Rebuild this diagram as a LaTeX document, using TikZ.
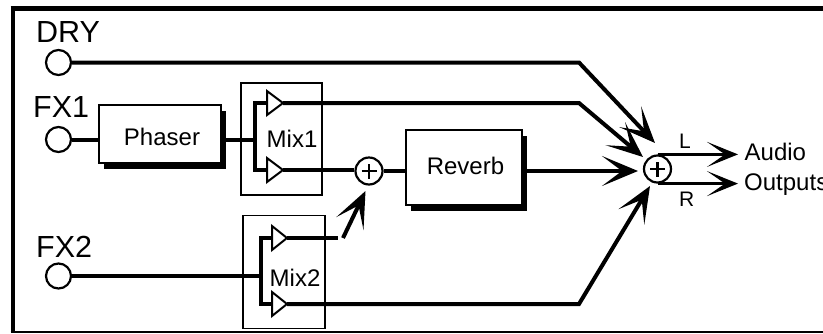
\documentclass[tikz,border=0pt]{standalone}
\usepackage{fontspec}
\setmainfont{Liberation Sans}
\usetikzlibrary{arrows.meta,shadows}
\begin{document}
\begin{tikzpicture}[x=1pt,y=-1pt,
  thickline/.style={line width=4pt},
  bigarrow/.style={line width=4pt,-{Stealth[length=36pt,width=30pt,inset=20pt]}},
  outarrow/.style={line width=2.6pt,-{Stealth[length=31pt,width=25pt,inset=18pt]}},
  port/.style={circle,draw,line width=2.2pt,minimum size=25pt,inner sep=0pt,fill=white},
  sumnode/.style={circle,draw,line width=2.2pt,minimum size=27pt,inner sep=0pt,fill=white,
    path picture={\draw[line width=2.2pt] ([xshift=-7.5pt]path picture bounding box.center) -- ([xshift=7.5pt]path picture bounding box.center);
                  \draw[line width=2.2pt] ([yshift=-7.5pt]path picture bounding box.center) -- ([yshift=7.5pt]path picture bounding box.center);}},
  fxbox/.style={draw,line width=1.8pt,fill=white,inner sep=0pt,
    drop shadow={shadow xshift=5pt,shadow yshift=-6pt,fill=black,opacity=1}},
  mixbox/.style={draw,line width=1.5pt,inner sep=0pt},
  tri/.style={draw,line width=2pt,fill=white,line join=miter},
  biglabel/.style={font=\fontsize{30.5}{32}\selectfont,inner sep=0pt,anchor=base west},
  boxlabel/.style={font=\fontsize{24}{26}\selectfont,inner sep=0pt},
  smalllabel/.style={font=\fontsize{21}{23}\selectfont,inner sep=0pt,anchor=base west}
]
\useasboundingbox (0,0) rectangle (823,333);
\fill[white] (0,0) rectangle (823,333);

% frame
\draw[line width=5pt] (10.5,8.5) -- (823,8.5);
\draw[line width=4pt] (12.7,6) -- (12.7,333);
\draw[line width=1.8pt] (10.5,331.6) -- (823,331.6);

% coordinates
\coordinate (drybend) at (579,62.5);
\coordinate (drytip) at (655,143);
\coordinate (mixoneA) at (283,103);
\coordinate (mixoneB) at (283,170);
\coordinate (mixoneAbend) at (579,103);
\coordinate (mixonetip) at (643,157);
\coordinate (mixonein) at (255,139.5);
\coordinate (mixtwoA) at (287,238);
\coordinate (mixtwoB) at (287,304);
\coordinate (mixtwoAend) at (338,238);
\coordinate (mixtwoAstart) at (343,238);
\coordinate (mixtwotip) at (365.5,191);
\coordinate (mixtwoBbend) at (579,304);
\coordinate (mixtwoBtip) at (650,186);
\coordinate (mixtwoin) at (261,276);
\coordinate (revtip) at (638,171);
\coordinate (outend) at (738,0);

% boxes
\node[mixbox,minimum width=81pt,minimum height=112pt] (mixone) at (281.5,139) {};
\node[mixbox,minimum width=82pt,minimum height=113pt] (mixtwo) at (284,272) {};
\node[fxbox,minimum width=122pt,minimum height=58pt] (phaser) at (160,134) {};
\node[fxbox,minimum width=116pt,minimum height=75pt] (reverb) at (464,167.5) {};
\node[boxlabel,anchor=base] (phaserlabel) at (162,145) {Phaser};
\node[boxlabel,anchor=base] (reverblabel) at (465.5,174.8) {Reverb};
\node[boxlabel,anchor=base west] (mixonelabel) at (266.5,147.5) {Mix1};
\node[boxlabel,anchor=base west] (mixtwolabel) at (269.5,286.8) {Mix2};

% ports
\node[port] (dry) at (58.5,62.5) {};
\node[port] (fxone) at (58.5,139.5) {};
\node[port] (fxtwo) at (58.5,276) {};
\node[biglabel] (drylabel) at (36,42) {DRY};
\node[biglabel] (fxonelabel) at (33,117.3) {FX1};
\node[biglabel] (fxtwolabel) at (36,257.2) {FX2};

% sums
\node[sumnode] (sumone) at (369,171) {};
\node[sumnode] (sumtwo) at (657.5,169) {};

% input lines
\draw[thickline] (fxone.east) -- (fxone.east -| phaser.west);
\draw[thickline] (phaser.east |- mixonein) -- (mixonein);
\draw[thickline] (fxtwo.east) -- (mixtwoin);

% buses
\draw[thickline] (267,103) -- (255,103) -- (255,170) -- (267,170);
\draw[thickline] (272,238) -- (261,238) -- (261,304) -- (272,304);

% outputs of mixers
\draw[thickline] (mixoneB) -- (mixoneB -| sumone.west);
\draw[thickline] (mixtwoA) -- (mixtwoAend);
\draw[bigarrow] (mixtwoAstart) -- (mixtwotip);
\draw[thickline] (sumone.east) -- (sumone.east -| reverb.west);

% into main sum
\draw[bigarrow] (dry.east) -- (drybend) -- (drytip);
\draw[bigarrow] (mixoneA) -- (mixoneAbend) -- (mixonetip);
\draw[bigarrow] (reverb.east |- revtip) -- (revtip);
\draw[bigarrow] (mixtwoB) -- (mixtwoBbend) -- (mixtwoBtip);

% triangles
\draw[tri] (267,91) -- (mixoneA) -- (267,115) -- cycle;
\draw[tri] (267,158) -- (mixoneB) -- (267,182) -- cycle;
\draw[tri] (272,226) -- (mixtwoA) -- (272,250) -- cycle;
\draw[tri] (272,292) -- (mixtwoB) -- (272,316) -- cycle;

% outputs
\draw[outarrow] (sumtwo.north) -- (sumtwo.north -| outend);
\draw[outarrow] (sumtwo.south) -- (sumtwo.south -| outend);
\node[smalllabel] (llabel) at (679,148.3) {L};
\node[smalllabel] (rlabel) at (679,206.6) {R};
\node[boxlabel,anchor=base west] (audiolabel) at (744.5,160.5) {Audio};
\node[boxlabel,anchor=base west] (outputslabel) at (744,190.5) {Outputs};
\end{tikzpicture}
\end{document}
